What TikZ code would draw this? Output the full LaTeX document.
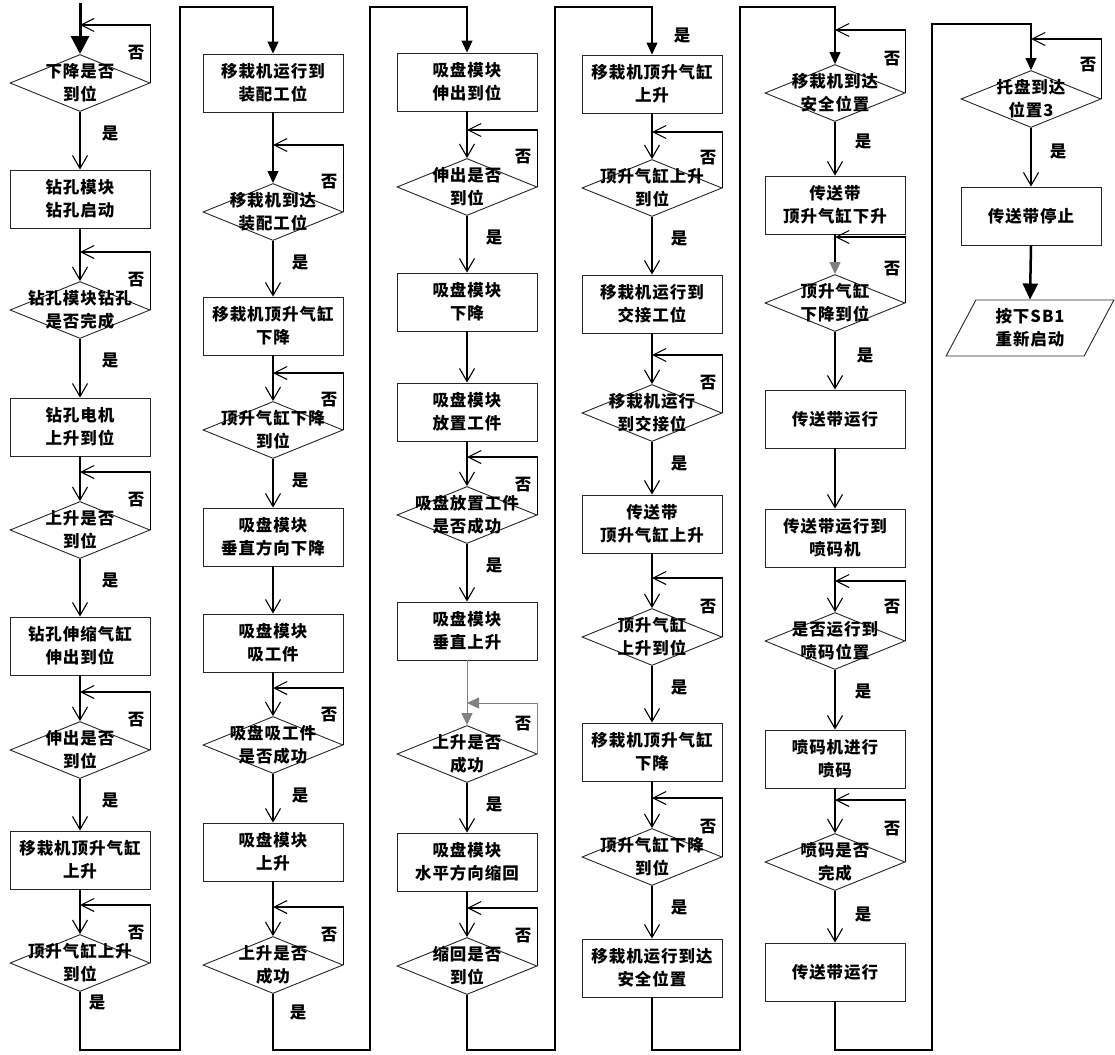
\documentclass[tikz,border=0pt]{standalone}
\usepackage{fontspec}
\newfontfamily\cjk{Noto Sans CJK SC}[LetterSpace=6]
\usetikzlibrary{shapes.geometric,arrows.meta}
\newcommand\mkbox[4]{\node[box] (#1) at (#2,#3) {#4};}
\newcommand\mkdia[4]{\node[dia] (#1) at (#2,#3) {}; \node[dtxt] (#1t) at (#2,#3) {#4};}
\newcommand\mkloop[4]{\coordinate (#1) at (#2,#3); \draw[lp] (#4.east) |- (#1);}
\begin{document}
\begin{tikzpicture}[x=1pt,y=-1pt,
  txtfont/.style={font=\cjk\bfseries\fontsize{16.5}{23}\selectfont},
  box/.style={draw=black!85, line width=0.9pt, minimum width=140pt, minimum height=58pt, inner sep=0pt, align=center, txtfont},
  dia/.style={draw=black!85, line width=0.9pt, diamond, minimum width=140pt, minimum height=57pt, inner sep=0pt},
  dtxt/.style={align=center, inner sep=0pt, txtfont},
  para/.style={draw=black!85, line width=0.9pt, trapezium, trapezium left angle=64, trapezium right angle=116, trapezium stretches=true, minimum width=168pt, minimum height=56pt, inner sep=0pt, align=center, txtfont},
  yn/.style={font=\cjk\bfseries\fontsize{16.5}{16.5}\selectfont, inner sep=0pt},
  ln/.style={line width=1.1pt, -{Straight Barb[length=13pt,width=15pt,line width=1.1pt]}},
  lp/.style={line width=1.1pt, -{Straight Barb[length=13pt,width=13pt,line width=1.1pt]}},
  fl/.style={line width=1.1pt, -{Triangle[length=12pt,width=11pt]}},
  gfl/.style={line width=0.9pt, draw=black!50, -{Triangle[length=12pt,width=11pt]}},
  tr/.style={line width=1.1pt, -{Triangle[length=12pt,width=11pt]}},
  thick arr/.style={line width=3pt, -{Triangle[length=18pt,width=18pt]}}
]
\useasboundingbox (0,0) rectangle (1115,1054);
\fill[white] (0,0) rectangle (1115,1054);

% ---------- column 1 ----------
\mkdia{c1d1}{80}{83}{下降是否\\到位}
\mkbox{c1b1}{80}{199}{钻孔模块\\钻孔启动}
\mkdia{c1d2}{80}{310}{钻孔模块钻孔\\是否完成}
\mkbox{c1b2}{80}{427}{钻孔电机\\上升到位}
\mkdia{c1d3}{80}{530}{上升是否\\到位}
\mkbox{c1b3}{80}{646}{钻孔伸缩气缸\\伸出到位}
\mkdia{c1d4}{80}{750}{伸出是否\\到位}
\mkbox{c1b4}{80}{860}{移栽机顶升气缸\\上升}
\mkdia{c1d5}{80}{963}{顶升气缸上升\\到位}

\coordinate (s0) at (80,3);
\draw[thick arr] (s0) -- (c1d1.north);
\draw[ln] (c1d1.south) -- (c1b1.north);
\draw[ln] (c1b1.south) -- (c1d2.north);
\draw[ln] (c1d2.south) -- (c1b2.north);
\draw[ln] (c1b2.south) -- (c1d3.north);
\draw[ln] (c1d3.south) -- (c1b3.north);
\draw[ln] (c1b3.south) -- (c1d4.north);
\draw[ln] (c1d4.south) -- (c1b4.north);
\draw[ln] (c1b4.south) -- (c1d5.north);
\mkloop{c1l1}{80}{25}{c1d1}
\mkloop{c1l2}{80}{252}{c1d2}
\mkloop{c1l3}{80}{472}{c1d3}
\mkloop{c1l4}{80}{692}{c1d4}
\mkloop{c1l5}{80}{905}{c1d5}
\node[yn] (c1n1) at (136,53) {否};
\node[yn] (c1n2) at (136,280) {否};
\node[yn] (c1n3) at (136,500) {否};
\node[yn] (c1n4) at (136,720) {否};
\node[yn] (c1n5) at (136,933) {否};
\node[yn] (c1y1) at (110,133) {是};
\node[yn] (c1y2) at (110,360) {是};
\node[yn] (c1y3) at (110,580) {是};
\node[yn] (c1y4) at (110,800) {是};
\node[yn] (c1y5) at (97,1002) {是};

% ---------- column 2 ----------
\mkbox{c2b1}{273}{83}{移栽机运行到\\装配工位}
\mkdia{c2d1}{273}{212}{移栽机到达\\装配工位}
\mkbox{c2b2}{273}{326}{移栽机顶升气缸\\下降}
\mkdia{c2d2}{273}{430}{顶升气缸下降\\到位}
\mkbox{c2b3}{273}{537}{吸盘模块\\垂直方向下降}
\mkbox{c2b4}{273}{643}{吸盘模块\\吸工件}
\mkdia{c2d3}{273}{745}{吸盘吸工件\\是否成功}
\mkbox{c2b5}{273}{852}{吸盘模块\\上升}
\mkdia{c2d4}{273}{965}{上升是否\\成功}

\draw[fl] (c2b1.south) -- (c2d1.north);
\draw[ln] (c2d1.south) -- (c2b2.north);
\draw[ln] (c2b2.south) -- (c2d2.north);
\draw[ln] (c2d2.south) -- (c2b3.north);
\draw[ln] (c2b3.south) -- (c2b4.north);
\draw[ln] (c2b4.south) -- (c2d3.north);
\draw[ln] (c2d3.south) -- (c2b5.north);
\draw[ln] (c2b5.south) -- (c2d4.north);
\mkloop{c2l1}{273}{145}{c2d1}
\mkloop{c2l2}{273}{373}{c2d2}
\mkloop{c2l3}{273}{688}{c2d3}
\mkloop{c2l4}{273}{907}{c2d4}
\node[yn] (c2n1) at (329,182) {否};
\node[yn] (c2n2) at (329,400) {否};
\node[yn] (c2n3) at (329,715) {否};
\node[yn] (c2n4) at (329,935) {否};
\node[yn] (c2y1) at (300,262) {是};
\node[yn] (c2y2) at (300,480) {是};
\node[yn] (c2y3) at (300,795) {是};
\node[yn] (c2y4) at (298,1012) {是};

% ---------- column 3 ----------
\mkbox{c3b1}{467}{82}{吸盘模块\\伸出到位}
\mkdia{c3d1}{467}{187}{伸出是否\\到位}
\mkbox{c3b2}{467}{302}{吸盘模块\\下降}
\mkbox{c3b3}{467}{412}{吸盘模块\\放置工件}
\mkdia{c3d2}{467}{515}{吸盘放置工件\\是否成功}
\mkbox{c3b4}{467}{631}{吸盘模块\\垂直上升}
\mkdia{c3d3}{467}{754}{上升是否\\成功}
\mkbox{c3b5}{467}{862}{吸盘模块\\水平方向缩回}
\mkdia{c3d4}{467}{966}{缩回是否\\到位}

\draw[ln] (c3b1.south) -- (c3d1.north);
\draw[ln] (c3d1.south) -- (c3b2.north);
\draw[ln] (c3b2.south) -- (c3b3.north);
\draw[ln] (c3b3.south) -- (c3d2.north);
\draw[ln] (c3d2.south) -- (c3b4.north);
\draw[gfl] (c3b4.south) -- (c3d3.north);
\draw[ln] (c3d3.south) -- (c3b5.north);
\draw[ln] (c3b5.south) -- (c3d4.north);
\mkloop{c3l1}{467}{130}{c3d1}
\mkloop{c3l2}{467}{457}{c3d2}
\coordinate (c3l3) at (467,703);
\draw[gfl] (c3d3.east) |- (c3l3);
\mkloop{c3l4}{467}{908}{c3d4}
\node[yn] (c3n1) at (523,157) {否};
\node[yn] (c3n2) at (523,485) {否};
\node[yn] (c3n3) at (523,724) {否};
\node[yn] (c3n4) at (523,936) {否};
\node[yn] (c3y1) at (494,237) {是};
\node[yn] (c3y2) at (494,565) {是};
\node[yn] (c3y3) at (494,804) {是};

% ---------- column 4 ----------
\mkbox{c4b1}{652}{84}{移栽机顶升气缸\\上升}
\mkdia{c4d1}{652}{188}{顶升气缸上升\\到位}
\mkbox{c4b2}{652}{304}{移栽机运行到\\交接工位}
\mkdia{c4d2}{652}{413}{移栽机运行\\到交接位}
\mkbox{c4b3}{652}{524}{传送带\\顶升气缸上升}
\mkdia{c4d3}{652}{637}{顶升气缸\\上升到位}
\mkbox{c4b4}{652}{752}{移栽机顶升气缸\\下降}
\mkdia{c4d4}{652}{857}{顶升气缸下降\\到位}
\mkbox{c4b5}{652}{968}{移栽机运行到达\\安全位置}

\draw[ln] (c4b1.south) -- (c4d1.north);
\draw[ln] (c4d1.south) -- (c4b2.north);
\draw[ln] (c4b2.south) -- (c4d2.north);
\draw[ln] (c4d2.south) -- (c4b3.north);
\draw[ln] (c4b3.south) -- (c4d3.north);
\draw[ln] (c4d3.south) -- (c4b4.north);
\draw[ln] (c4b4.south) -- (c4d4.north);
\draw[ln] (c4d4.south) -- (c4b5.north);
\mkloop{c4l1}{652}{132}{c4d1}
\mkloop{c4l2}{652}{355}{c4d2}
\mkloop{c4l3}{652}{578}{c4d3}
\mkloop{c4l4}{652}{798}{c4d4}
\node[yn] (c4n1) at (708,158) {否};
\node[yn] (c4n2) at (708,383) {否};
\node[yn] (c4n3) at (708,607) {否};
\node[yn] (c4n4) at (708,827) {否};
\node[yn] (c4y0) at (682,35) {是};
\node[yn] (c4y1) at (679,238) {是};
\node[yn] (c4y2) at (679,463) {是};
\node[yn] (c4y3) at (679,687) {是};
\node[yn] (c4y4) at (679,907) {是};

% ---------- column 5 ----------
\mkdia{c5d1}{835}{93}{移栽机到达\\安全位置}
\mkbox{c5b1}{835}{205}{传送带\\顶升气缸下升}
\mkdia{c5d2}{835}{303}{顶升气缸\\下降到位}
\mkbox{c5b2}{835}{419}{传送带运行}
\mkbox{c5b3}{835}{538}{传送带运行到\\喷码机}
\mkdia{c5d3}{835}{641}{是否运行到\\喷码位置}
\mkbox{c5b4}{835}{759}{喷码机进行\\喷码}
\mkdia{c5d4}{835}{862}{喷码是否\\完成}
\mkbox{c5b5}{835}{972}{传送带运行}

\draw[ln] (c5d1.south) -- (c5b1.north);
\draw[line width=1.1pt, -{Triangle[length=12pt,width=11pt,color=black!50]}] (c5b1.south) -- (c5d2.north);
\draw[ln] (c5d2.south) -- (c5b2.north);
\draw[ln] (c5b2.south) -- (c5b3.north);
\draw[ln] (c5b3.south) -- (c5d3.north);
\draw[ln] (c5d3.south) -- (c5b4.north);
\draw[ln] (c5b4.south) -- (c5d4.north);
\draw[ln] (c5d4.south) -- (c5b5.north);
\mkloop{c5l1}{835}{30}{c5d1}
\mkloop{c5l2}{835}{237}{c5d2}
\mkloop{c5l3}{835}{581}{c5d3}
\mkloop{c5l4}{835}{800}{c5d4}
\node[yn] (c5n1) at (892,59) {否};
\node[yn] (c5n2) at (892,269) {否};
\node[yn] (c5n3) at (892,607) {否};
\node[yn] (c5n4) at (892,829) {否};
\node[yn] (c5y1) at (863,141) {是};
\node[yn] (c5y2) at (865,355) {是};
\node[yn] (c5y3) at (863,691) {是};
\node[yn] (c5y4) at (863,914) {是};

% ---------- column 6 ----------
\mkdia{c6d1}{1031}{99}{托盘到达\\位置3}
\mkbox{c6b1}{1031}{216}{传送带停止}
\node[para] (c6p) at (1030,328) {按下SB1\\重新启动};
\draw[ln] (c6d1.south) -- (c6b1.north);
\draw[line width=2.5pt, -{Triangle[length=16pt,width=15pt]}] (c6b1.south) -- (c6p.north);
\mkloop{c6l1}{1031}{39}{c6d1}
\node[yn] (c6n1) at (1088,65) {否};
\node[yn] (c6y1) at (1058,151) {是};

% ---------- column transfers ----------
\coordinate (k1) at (80,1050);  \coordinate (t1) at (180,7);
\coordinate (k2) at (273,1050); \coordinate (t2) at (370,7);
\coordinate (k3) at (467,1050); \coordinate (t3) at (555,7);
\coordinate (k4) at (652,1050); \coordinate (t4) at (740,7);
\coordinate (k5) at (835,1050); \coordinate (t5) at (932,24);
\draw[tr] (c1d5.south) -- (k1) -| (t1) -| (c2b1.north);
\draw[tr] (c2d4.south) -- (k2) -| (t2) -| (c3b1.north);
\draw[tr] (c3d4.south) -- (k3) -| (t3) -| (c4b1.north);
\draw[tr] (c4b5.south) -- (k4) -| (t4) -| (c5d1.north);
\draw[tr] (c5b5.south) -- (k5) -| (t5) -| (c6d1.north);
\end{tikzpicture}
\end{document}
